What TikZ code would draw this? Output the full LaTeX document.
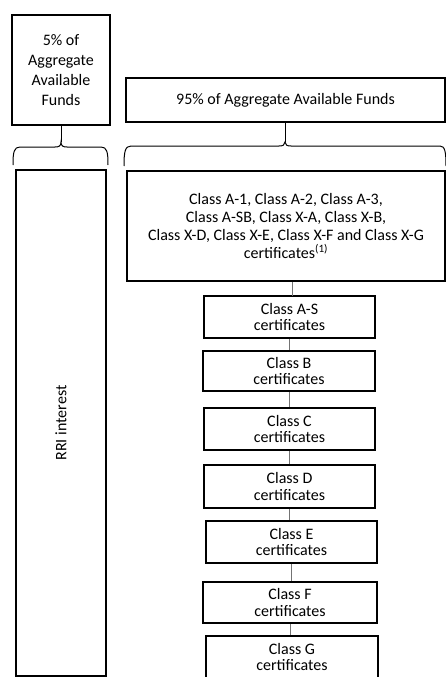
\documentclass[tikz,border=0pt]{standalone}
\usepackage{fontspec}
\setmainfont{Carlito}
\begin{document}
\begin{tikzpicture}[x=1pt,y=1pt]
\tikzset{
  box/.style={draw, line width=2pt, align=center, inner sep=0pt, font=\fontsize{16}{18}\selectfont},
  cert/.style={box, minimum width=171pt, minimum height=42pt, font=\fontsize{16}{16.5}\selectfont},
  link/.style={draw=black!55, line width=1pt},
  bracepath/.style={line width=1pt}
}
\useasboundingbox (0,0) rectangle (446,-677);
% top boxes
\node[box, minimum width=98pt, minimum height=110pt, font=\fontsize{16}{20}\selectfont] (five) at (61,-70) {5\% of\\Aggregate\\Available\\Funds};
\node[box, minimum width=319pt, minimum height=44pt] (ninefive) at (285.5,-100) {95\% of Aggregate Available Funds};
% braces
\coordinate (lcusp) at (61,-142);
\coordinate (rcusp) at (285,-142);
\draw[bracepath] (13,-165) .. controls (13,-152) and (14,-147) .. (20,-147) -- (55,-147) .. controls (59,-147) and (61,-146) .. (lcusp) .. controls (61,-146) and (63,-147) .. (67,-147) -- (101,-147) .. controls (107,-147) and (108,-152) .. (108,-165);
\draw[bracepath] (124,-166) .. controls (124,-152) and (125,-146) .. (131,-146) -- (279,-146) .. controls (283,-146) and (285,-145) .. (rcusp) .. controls (285,-145) and (287,-146) .. (291,-146) -- (440,-146) .. controls (445,-146) and (446,-152) .. (446,-166);
\draw[bracepath] (five.south) -- (lcusp);
\draw[bracepath] (ninefive.south -| rcusp) -- (rcusp);
% left tall box
\node[box, rotate=90, minimum width=506pt, minimum height=90pt] (rri) at (61,-423) {RRI interest};
% classes box
\node[box, line width=1.8pt, minimum width=318pt, minimum height=110pt] (classes) at (286,-226) {Class A-1, Class A-2, Class A-3,\\Class A-SB, Class X-A, Class X-B,\\Class X-D, Class X-E, Class X-F and Class X-G\\certificates\textsuperscript{(1)}};
% certificate boxes
\node[cert] (as) at (289.5,-317) {Class A-S\\certificates};
\node[cert, minimum width=172pt, minimum height=40pt] (b) at (289,-371) {Class B\\certificates};
\node[cert] (c) at (289.5,-429) {Class C\\certificates};
\node[cert, minimum height=43pt] (d) at (289.5,-486.5) {Class D\\certificates};
\node[cert, line width=1.6pt] (e) at (291.5,-542) {Class E\\certificates};
\node[cert, minimum width=174pt, minimum height=41pt] (f) at (290,-602.5) {Class F\\certificates};
\node[cert, minimum width=172pt] (g) at (292,-657) {Class G\\certificates};
% connectors
\draw[link] (classes.south -| as.north) ++(2.5,0) -- ++(0,-14);
\draw[link] (b.north) -- (b.north |- as.south);
\draw[link] (c.north) -- (c.north |- b.south);
\draw[link] (d.north) -- (d.north |- c.south);
\draw[link] (e.north -| d.south) -- (d.south);
\draw[link] (f.north -| e.south) -- (e.south);
\draw[link] (g.north -| f.south) -- (f.south);
\end{tikzpicture}
\end{document}
